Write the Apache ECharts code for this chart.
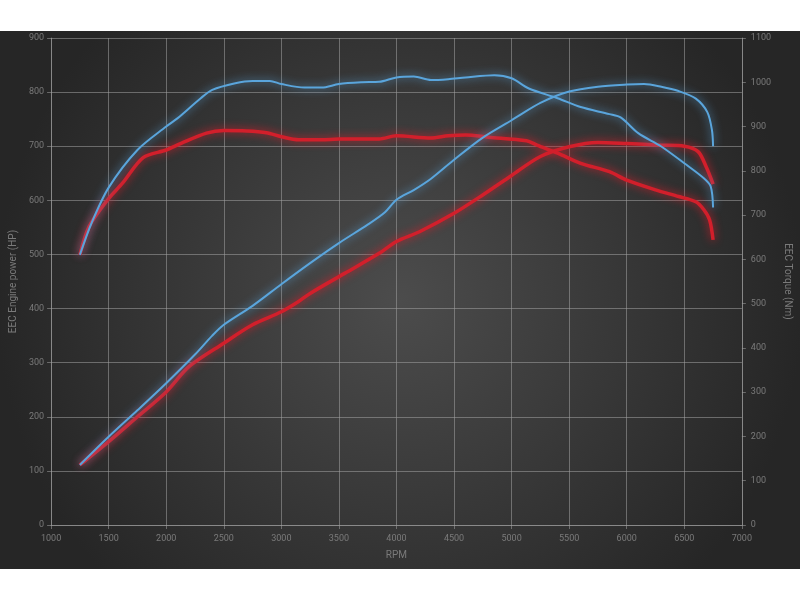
<!DOCTYPE html>
<html>
<head>
<meta charset="utf-8">
<script src="https://cdn.jsdelivr.net/npm/echarts@6/dist/echarts.min.js"></script>
<style>
html,body{margin:0;padding:0;background:#fff;width:800px;height:600px;overflow:hidden;}
#chart{position:absolute;left:0;top:31px;width:800px;height:538px;}
</style>
</head>
<body>
<div id="chart"></div>
<script>
// Blue power (HP)
const bluePowerRpm = [1250,1500,1750,2000,2250,2400,2500,2750,3000,3250,3500,3750,3900,4000,4150,4300,4500,4750,5000,5250,5500,5750,6000,6150,6300,6450,6600,6700,6740,6750];
const bluePowerHp  = [111,163,212,262,315,350,370,405,445,484,521,555,578,601,619,640,675,716,748,780,801,810,814,815,810,802,788,763,730,700];
// Red power (HP)
const redPowerRpm = [1250,1500,1750,2000,2200,2500,2750,3000,3150,3250,3550,3850,4000,4200,4500,4750,5000,5250,5500,5750,6000,6300,6500,6620,6690,6750];
const redPowerHp  = [111,154,200,246,293,336,370,394,413,428,465,502,524,542,576,610,646,681,699,707,705,702,700,690,662,630];
// Blue torque (Nm)
const blueTorqueRpm = [1250,1350,1500,1750,2000,2100,2300,2400,2600,2750,2900,3000,3200,3350,3500,3700,3850,4000,4150,4300,4450,4600,4850,5000,5150,5400,5600,5850,5950,6100,6300,6500,6670,6730,6750];
const blueTorqueNm  = [610,681,762,847,900,919,964,983,998,1003,1003,996,988,988,996,1000,1001,1011,1013,1005,1007,1011,1016,1009,986,964,944,928,920,885,855,817,783,764,717];
// Red torque (Nm)
const redTorqueRpm = [1250,1330,1490,1620,1800,2000,2130,2350,2500,2700,2870,3000,3150,3350,3500,3850,4000,4300,4450,4600,4800,5130,5220,5400,5600,5850,6000,6250,6450,6600,6670,6720,6750];
const redTorqueNm  = [610,674,734,772,830,847,862,885,891,890,886,877,870,870,872,872,879,874,879,881,876,868,858,840,817,798,779,757,742,730,712,689,644];

const xTicks = {min:1000,max:7000,interval:500};
const leftTicks = {min:0,max:900,interval:100};
const rightTicks = {min:0,max:1100,interval:100};

const pairs = (xs, ys) => xs.map((x,i)=>[x,ys[i]]);
const plain = v => String(v);
const BLUE = '#5aa5dc', RED = '#d21f2b';
const labelColor = '#7a7a7a';
const gridColor = 'rgba(160,160,160,0.55)';

const chart = echarts.init(document.getElementById('chart'));
function lineSeries(name, data, color, width, yIdx, z){
  return {
    name, type:'line', data, yAxisIndex:yIdx, smooth:0.3, showSymbol:false, z,
    lineStyle:{color, width, shadowColor:color, shadowBlur:8},
    itemStyle:{color}
  };
}
chart.setOption({
  backgroundColor:{type:'radial',x:0.5,y:0.5,r:0.75,colorStops:[{offset:0,color:'#4c4c4c'},{offset:1,color:'#262626'}]},
  animation:false,
  textStyle:{fontFamily:'Roboto'},
  grid:{left:48,right:52,top:7,bottom:44},
  xAxis:{
    type:'value', min:xTicks.min, max:xTicks.max, interval:xTicks.interval,
    name:'RPM', nameLocation:'middle', nameGap:25,
    nameTextStyle:{color:labelColor,fontSize:10},
    axisLine:{show:true,lineStyle:{color:gridColor}},
    axisTick:{show:true,length:4,lineStyle:{color:gridColor}},
    axisLabel:{color:labelColor,fontSize:9,margin:9,formatter:plain},
    splitLine:{show:true,lineStyle:{color:gridColor,width:1}}
  },
  yAxis:[{
    type:'value', position:'left', min:leftTicks.min, max:leftTicks.max, interval:leftTicks.interval,
    name:'EEC Engine power (HP)', nameLocation:'middle', nameGap:33,
    nameTextStyle:{color:labelColor,fontSize:10},
    axisLine:{show:true,lineStyle:{color:gridColor}},
    axisTick:{show:true,length:4,lineStyle:{color:gridColor}},
    axisLabel:{color:labelColor,fontSize:9,margin:7,formatter:plain},
    splitLine:{show:true,lineStyle:{color:gridColor,width:1}}
  },{
    type:'value', position:'right', min:rightTicks.min, max:rightTicks.max, interval:rightTicks.interval,
    name:'EEC Torque (Nm)', nameLocation:'middle', nameGap:36, nameRotate:-90,
    nameTextStyle:{color:labelColor,fontSize:10},
    axisLine:{show:true,lineStyle:{color:gridColor}},
    axisTick:{show:true,length:4,lineStyle:{color:gridColor}},
    axisLabel:{color:labelColor,fontSize:9,margin:9,formatter:plain},
    splitLine:{show:false}
  }],
  series:[
    lineSeries('Power stock', pairs(redPowerRpm, redPowerHp), RED, 3.5, 0, 2),
    lineSeries('Torque stock', pairs(redTorqueRpm, redTorqueNm), RED, 3.5, 1, 2),
    lineSeries('Power tuned', pairs(bluePowerRpm, bluePowerHp), BLUE, 2, 0, 3),
    lineSeries('Torque tuned', pairs(blueTorqueRpm, blueTorqueNm), BLUE, 2, 1, 3)
  ]
});
</script>
</body>
</html>
